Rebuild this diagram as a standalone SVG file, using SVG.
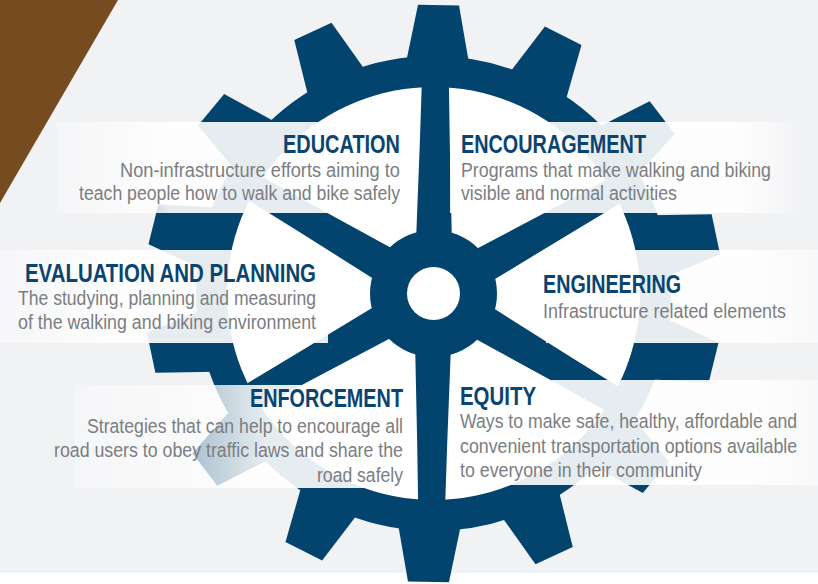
<svg xmlns="http://www.w3.org/2000/svg" width="818" height="584" viewBox="0 0 818 584">
  <defs>
    <style>
      .head{font-family:"Liberation Sans Narrow","Liberation Sans",Arial,sans-serif;font-weight:bold;font-size:25px;fill:#0a4470}
      .body{font-family:"Liberation Sans Narrow","Liberation Sans",Arial,sans-serif;font-size:19.5px;fill:#7b7d81}
      .end{text-anchor:end}
    </style>
    <!-- one gear tooth and one spoke, both pointing straight up from the hub centre -->
    <polygon id="tooth" points="-32,-228 -20.5,-288.5 20.5,-288.5 32,-228"/>
    <polygon id="spoke" points="-18,-50 -15,-150 -13.5,-212 13.5,-212 15,-150 18,-50"/>
    <!-- translucent label bands, fading toward the outer edge -->
    <linearGradient id="gL1" gradientUnits="userSpaceOnUse" x1="57" y1="0" x2="170" y2="0">
      <stop offset="0" stop-color="#fff" stop-opacity="0.3"/>
      <stop offset="1" stop-color="#fff" stop-opacity="0.9"/>
    </linearGradient>
    <linearGradient id="gL2" gradientUnits="userSpaceOnUse" x1="0" y1="0" x2="120" y2="0">
      <stop offset="0" stop-color="#fff" stop-opacity="0.35"/>
      <stop offset="1" stop-color="#fff" stop-opacity="0.9"/>
    </linearGradient>
    <linearGradient id="gL3" gradientUnits="userSpaceOnUse" x1="75" y1="0" x2="265" y2="0">
      <stop offset="0" stop-color="#fff" stop-opacity="0.3"/>
      <stop offset="1" stop-color="#fff" stop-opacity="0.9"/>
    </linearGradient>
    <linearGradient id="gR1" gradientUnits="userSpaceOnUse" x1="740" y1="0" x2="805" y2="0">
      <stop offset="0" stop-color="#fff" stop-opacity="0.9"/>
      <stop offset="1" stop-color="#fff" stop-opacity="0"/>
    </linearGradient>
    <linearGradient id="gR2" gradientUnits="userSpaceOnUse" x1="750" y1="0" x2="818" y2="0">
      <stop offset="0" stop-color="#fff" stop-opacity="0.9"/>
      <stop offset="1" stop-color="#fff" stop-opacity="0.5"/>
    </linearGradient>
  </defs>

  <!-- page background -->
  <rect width="818" height="584" fill="#ffffff"/>
  <rect width="818" height="573" fill="#f1f2f4"/>
  <polygon points="0,0 118,0 0,203" fill="#774b20"/>

  <!-- gear: rim, teeth, spokes and hub -->
  <g id="gear" transform="translate(433.5 293.5)" fill="#03446f">
    <circle r="207" fill="#ffffff"/>
    <circle r="222" fill="none" stroke="#03446f" stroke-width="31"/>
    <use href="#tooth" transform="rotate(1)"/>
    <use href="#tooth" transform="rotate(26.714)"/>
    <use href="#tooth" transform="rotate(52.429)"/>
    <use href="#tooth" transform="rotate(78.143)"/>
    <use href="#tooth" transform="rotate(103.857)"/>
    <use href="#tooth" transform="rotate(129.571)"/>
    <use href="#tooth" transform="rotate(155.286)"/>
    <use href="#tooth" transform="rotate(181)"/>
    <use href="#tooth" transform="rotate(206.714)"/>
    <use href="#tooth" transform="rotate(232.429)"/>
    <use href="#tooth" transform="rotate(258.143)"/>
    <use href="#tooth" transform="rotate(283.857)"/>
    <use href="#tooth" transform="rotate(309.571)"/>
    <use href="#tooth" transform="rotate(335.286)"/>
    <use href="#spoke" transform="rotate(0.5)"/>
    <use href="#spoke" transform="rotate(60.5)"/>
    <use href="#spoke" transform="rotate(120.5)"/>
    <use href="#spoke" transform="rotate(180.5)"/>
    <use href="#spoke" transform="rotate(240.5)"/>
    <use href="#spoke" transform="rotate(300.5)"/>
    <circle r="63.5"/>
    <circle r="26.5" fill="#ffffff"/>
  </g>

  <!-- translucent bands behind each label; they stop short of the hub and the vertical spokes -->
  <g id="bands">
    <rect x="57" y="122" width="358" height="91" fill="url(#gL1)"/>
    <rect x="450" y="122" width="355" height="91" fill="url(#gR1)"/>
    <rect x="0" y="250" width="328" height="93" fill="url(#gL2)"/>
    <rect x="546" y="250" width="272" height="93" fill="url(#gR2)"/>
    <rect x="75" y="385" width="337" height="103" fill="url(#gL3)"/>
    <rect x="452" y="380" width="366" height="105" fill="url(#gR2)"/>
  </g>

  <!-- label blocks -->
  <g id="education">
    <text class="head end" x="400" y="153" textLength="117" lengthAdjust="spacingAndGlyphs">EDUCATION</text>
    <text class="body end" x="400" y="177" textLength="280" lengthAdjust="spacingAndGlyphs">Non-infrastructure efforts aiming to</text>
    <text class="body end" x="400" y="200" textLength="321" lengthAdjust="spacingAndGlyphs">teach people how to walk and bike safely</text>
  </g>

  <g id="encouragement">
    <text class="head" x="461" y="153" textLength="185" lengthAdjust="spacingAndGlyphs">ENCOURAGEMENT</text>
    <text class="body" x="461" y="177" textLength="310" lengthAdjust="spacingAndGlyphs">Programs that make walking and biking</text>
    <text class="body" x="461" y="200" textLength="216" lengthAdjust="spacingAndGlyphs">visible and normal activities</text>
  </g>

  <g id="evaluation-and-planning">
    <text class="head end" x="316" y="282" textLength="291" lengthAdjust="spacingAndGlyphs">EVALUATION AND PLANNING</text>
    <text class="body end" x="316" y="305" textLength="298" lengthAdjust="spacingAndGlyphs">The studying, planning and measuring</text>
    <text class="body end" x="316" y="329" textLength="298" lengthAdjust="spacingAndGlyphs">of the walking and biking environment</text>
  </g>

  <g id="engineering">
    <text class="head" x="543" y="293" textLength="138" lengthAdjust="spacingAndGlyphs">ENGINEERING</text>
    <text class="body" x="543" y="318" textLength="243" lengthAdjust="spacingAndGlyphs">Infrastructure related elements</text>
  </g>

  <g id="enforcement">
    <text class="head end" x="403" y="407" textLength="153" lengthAdjust="spacingAndGlyphs">ENFORCEMENT</text>
    <text class="body end" x="403" y="433" textLength="316" lengthAdjust="spacingAndGlyphs">Strategies that can help to encourage all</text>
    <text class="body end" x="403" y="457" textLength="349" lengthAdjust="spacingAndGlyphs">road users to obey traffic laws and share the</text>
    <text class="body end" x="403" y="482" textLength="86" lengthAdjust="spacingAndGlyphs">road safely</text>
  </g>

  <g id="equity">
    <text class="head" x="460" y="405" textLength="76" lengthAdjust="spacingAndGlyphs">EQUITY</text>
    <text class="body" transform="translate(460 428) scale(0.86 1)" x="0" y="0" textLength="392" lengthAdjust="spacingAndGlyphs">Ways to make safe, healthy, affordable and</text>
    <text class="body" transform="translate(460 453) scale(0.86 1)" x="0" y="0" textLength="392" lengthAdjust="spacingAndGlyphs">convenient transportation options available</text>
    <text class="body" x="460" y="477" textLength="242" lengthAdjust="spacingAndGlyphs">to everyone in their community</text>
  </g>

  <!-- no connectors in this figure -->
  <g id="connectors"/>
</svg>
